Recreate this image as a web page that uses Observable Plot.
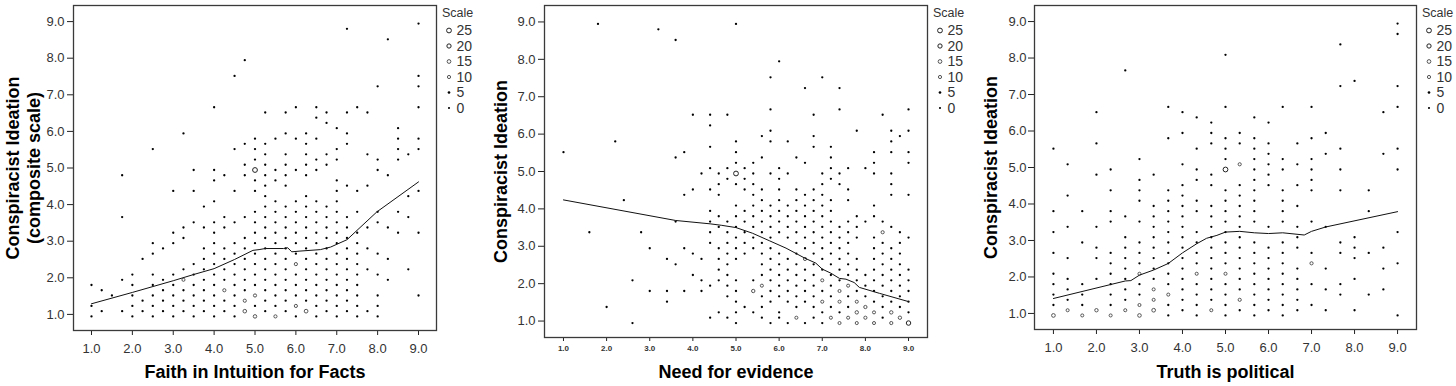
<!DOCTYPE html>
<html><head><meta charset="utf-8">
<script src="https://cdn.jsdelivr.net/npm/d3@7"></script>
<script src="https://cdn.jsdelivr.net/npm/@observablehq/plot@0.6"></script>
<style>
body{margin:0;background:#fff;}
#wrap{position:relative;width:1456px;height:386px;font-family:"Liberation Sans",Arial,sans-serif;}
#wrap svg{position:absolute;top:0;overflow:visible;}
</style></head><body><div id="wrap"></div>
<script>
// ---- data ----
const axisTicks = [1, 2, 3, 4, 5, 6, 7, 8, 9];
const legendValues = [25, 20, 15, 10, 5, 0];
const legendTitle = "Scale";

// Conspiracist Ideation responses lie on a grid of 1/7 steps above 1.0;
// each column lists the occupied steps (0 = 1.0, 56 = 9.0).
const faithCols = [
  [1.0, [6, 2, 0]], [1.25, [5, 1]], [1.5, [4]], [1.75, [27, 19, 7, 1]],
  [2.0, [8, 6, 4, 2, 0]], [2.25, [11, 3, 1]], [2.5, [32, 14, 12, 8, 6, 4, 2, 0]],
  [2.75, [13, 7, 5, 3, 1]], [3.0, [24, 16, 14, 8, 6, 4, 2, 0]],
  [3.25, [35, 17, 15, 9, 7, 5, 3, 1]], [3.5, [28, 24, 18, 10, 8, 6, 4, 2, 0]],
  [3.75, [21, 17, 13, 11, 9, 7, 5, 3, 1]], [4.0, [40, 28, 26, 22, 18, 16, 14, 12, 10, 8, 6, 4, 2, 0]],
  [4.25, [27, 19, 17, 13, 11, 9, 7, 5, 3, 1]], [4.5, [46, 32, 24, 18, 14, 12, 10, 8, 6, 4, 2, 0]],
  [4.75, [49, 33, 29, 27, 19, 15, 13, 11, 9, 7, 5, 3, 1]],
  [5.0, [34, 32, 30, 28, 26, 24, 20, 18, 16, 14, 12, 10, 8, 6, 4, 2, 0]],
  [5.25, [39, 33, 31, 29, 27, 25, 23, 21, 19, 17, 15, 13, 11, 9, 7, 5, 3, 1]],
  [5.5, [34, 28, 26, 22, 20, 18, 16, 14, 12, 10, 8, 6, 4, 2, 0]],
  [5.75, [39, 35, 31, 29, 27, 25, 21, 19, 17, 15, 13, 11, 9, 7, 5, 3, 1]],
  [6.0, [40, 34, 28, 22, 20, 18, 16, 14, 12, 10, 8, 6, 4, 2, 0]],
  [6.25, [35, 33, 31, 29, 27, 23, 21, 19, 17, 15, 13, 11, 9, 7, 5, 3, 1]],
  [6.5, [40, 38, 34, 30, 28, 22, 20, 18, 16, 14, 12, 10, 8, 6, 4, 2, 0]],
  [6.75, [39, 37, 31, 29, 21, 19, 17, 15, 13, 11, 9, 7, 5, 3, 1]],
  [7.0, [36, 32, 30, 26, 24, 22, 20, 18, 16, 14, 12, 10, 8, 6, 4, 2, 0]],
  [7.25, [55, 39, 35, 33, 25, 19, 17, 15, 13, 11, 9, 7, 5, 3, 1]],
  [7.5, [40, 24, 20, 16, 14, 12, 10, 8, 6, 4, 2, 0]],
  [7.75, [39, 31, 25, 17, 13, 9, 1]], [8.0, [44, 30, 28, 20, 18, 12, 8, 4, 2, 0]],
  [8.25, [53, 27, 17, 11, 7]], [8.5, [36, 34, 32, 30, 20, 16]], [8.75, [31, 23, 19, 9]],
  [9.0, [56, 46, 44, 40, 34, 32, 24, 16, 4]]
];
const faithCounts = [[5.0, 28, 25], [5.0, 0, 13], [5.0, 4, 10], [4.75, 1, 14], [4.75, 3, 10],
  [4.25, 5, 10], [6.0, 2, 10], [6.0, 10, 10], [6.25, 1, 15], [5.5, 0, 10], [3.25, 7, 9]];
const faithLoessX = [1.0, 2.0, 3.0, 3.5, 4.0, 4.5, 4.95, 5.1, 5.25, 5.7, 5.8, 5.9, 6.1, 6.6, 6.85, 7.25, 7.98, 9.0];
const faithLoessY = [1.29, 1.6, 1.92, 2.09, 2.25, 2.5, 2.75, 2.77, 2.8, 2.8, 2.82, 2.71, 2.73, 2.77, 2.84, 3.04, 3.8, 4.62];

const needCols = [
  [1.0, [32]], [1.6, [17]], [1.8, [56]], [2.0, [3]], [2.2, [34]], [2.4, [23]], [2.6, [8, 0]],
  [2.8, [17]], [3.0, [14, 6]], [3.2, [55]], [3.4, [12, 6, 4]], [3.6, [53, 31, 19, 11]],
  [3.8, [32, 24, 14, 6]], [4.0, [39, 25, 13, 9]], [4.2, [28, 12, 8, 6]],
  [4.4, [39, 37, 33, 29, 25, 21, 19, 17, 15, 7, 1]],
  [4.6, [28, 26, 24, 20, 18, 14, 12, 10, 8, 2]],
  [4.8, [39, 29, 27, 19, 17, 15, 13, 11, 9, 7, 5, 1]],
  [5.0, [56, 34, 32, 30, 28, 26, 22, 20, 18, 16, 14, 12, 8, 6, 4, 2, 0]],
  [5.2, [29, 27, 25, 21, 19, 17, 15, 13, 3]],
  [5.4, [30, 28, 26, 24, 22, 20, 18, 16, 14, 8, 6, 2]],
  [5.6, [35, 31, 25, 23, 21, 19, 17, 15, 13, 11, 9, 7, 5, 3, 1]],
  [5.8, [46, 40, 36, 34, 28, 22, 20, 18, 16, 14, 12, 10, 8, 6, 4, 0]],
  [6.0, [49, 29, 27, 25, 23, 21, 19, 17, 13, 11, 9, 7, 5, 2, 1]],
  [6.2, [34, 28, 22, 20, 18, 16, 12, 10, 8, 6, 4, 0]],
  [6.4, [31, 25, 23, 21, 19, 17, 15, 13, 11, 9, 7, 5, 3, 1]],
  [6.6, [44, 30, 24, 22, 20, 18, 16, 14, 12, 10, 8, 6, 4, 0]],
  [6.8, [39, 35, 33, 25, 23, 21, 19, 17, 15, 13, 11, 9, 7, 5, 3, 1]],
  [7.0, [46, 28, 26, 24, 22, 20, 18, 16, 14, 12, 10, 8, 6, 4, 2, 0]],
  [7.2, [33, 31, 29, 27, 23, 21, 19, 17, 15, 13, 11, 9, 7, 5, 3, 1]],
  [7.4, [44, 40, 28, 26, 18, 16, 14, 12, 10, 8, 6, 4, 2, 0]],
  [7.6, [29, 25, 23, 19, 17, 15, 13, 11, 9, 7, 5, 3, 1]],
  [7.8, [36, 20, 18, 16, 12, 10, 8, 6, 4, 2, 0]],
  [8.0, [29, 19, 9, 7, 5, 3, 1]],
  [8.2, [32, 30, 28, 22, 20, 16, 14, 12, 10, 8, 6, 4, 2, 0]],
  [8.4, [39, 19, 17, 15, 13, 11, 9, 7, 5, 3, 1]],
  [8.6, [36, 34, 32, 28, 26, 24, 18, 14, 12, 10, 8, 6, 4, 2, 0]],
  [8.8, [35, 17, 15, 13, 11, 9, 7, 5, 3, 1]],
  [9.0, [40, 36, 32, 30, 24, 16, 10, 8, 6, 4, 2, 0]]
];
const needCounts = [[5.0, 28, 25], [9.0, 0, 22], [5.4, 6, 12], [8.0, 3, 11], [7.8, 2, 12],
  [8.6, 2, 12], [8.8, 1, 12], [8.0, 1, 10], [8.4, 17, 10], [6.6, 12, 10], [5.6, 7, 9],
  [7.6, 7, 9], [7.0, 8, 9], [7.4, 6, 9], [7.0, 4, 9], [7.4, 4, 9], [7.8, 4, 9], [8.2, 2, 9],
  [6.4, 1, 9], [7.2, 1, 9], [7.6, 1, 9], [7.4, 0, 9], [7.8, 0, 9], [8.2, 0, 9], [8.6, 0, 10]];
const needLoessX = [1.0, 3.6, 4.4, 4.67, 5.0, 5.38, 5.77, 6.16, 6.6, 6.85, 7.0, 7.2, 7.4, 7.55, 7.74, 7.86, 8.33, 9.0];
const needLoessY = [4.24, 3.69, 3.6, 3.56, 3.5, 3.35, 3.15, 2.95, 2.68, 2.55, 2.39, 2.28, 2.14, 2.12, 2.03, 1.9, 1.74, 1.52];

const truthCols = [
  [1.0, [32, 20, 16, 12, 8, 6, 4, 2, 0]], [1.33, [29, 23, 17, 11, 7, 5, 3, 1]],
  [1.67, [20, 14, 6, 4, 2, 0]], [2.0, [39, 33, 27, 17, 13, 11, 7, 1]],
  [2.33, [28, 24, 20, 18, 12, 10, 8, 6, 4, 2, 0]], [2.67, [47, 19, 15, 13, 11, 9, 7, 5, 3, 1]],
  [3.0, [30, 26, 24, 22, 18, 14, 12, 10, 8, 6, 4, 2, 0]],
  [3.33, [27, 21, 19, 17, 15, 13, 11, 9, 7, 5, 3, 1]],
  [3.67, [40, 34, 24, 22, 20, 18, 16, 14, 12, 10, 8, 6, 4, 2, 0]],
  [4.0, [39, 35, 29, 25, 23, 21, 19, 17, 15, 13, 11, 9, 7, 5, 3, 1]],
  [4.33, [38, 32, 28, 26, 22, 20, 16, 14, 12, 10, 8, 6, 4, 2, 0]],
  [4.67, [37, 35, 33, 27, 25, 21, 19, 17, 15, 13, 11, 9, 7, 5, 3, 1]],
  [5.0, [50, 40, 34, 32, 30, 28, 24, 22, 20, 18, 16, 14, 12, 10, 8, 6, 4, 2, 0]],
  [5.33, [35, 33, 29, 25, 23, 21, 19, 17, 15, 13, 11, 9, 7, 5, 3, 1]],
  [5.67, [38, 34, 32, 30, 28, 26, 24, 22, 20, 18, 14, 12, 10, 8, 6, 4, 2, 0]],
  [6.0, [37, 33, 31, 29, 27, 25, 17, 13, 11, 9, 7, 5, 3, 1]],
  [6.33, [40, 30, 28, 24, 22, 20, 18, 14, 12, 10, 8, 6, 4, 2, 0]],
  [6.67, [33, 29, 25, 21, 17, 15, 13, 9, 7, 5, 3, 1]],
  [7.0, [40, 34, 30, 28, 26, 24, 18, 12, 10, 6, 2]],
  [7.33, [35, 31, 17, 9, 5, 1]], [7.67, [52, 44, 32, 28, 24, 14, 12, 6, 4]],
  [8.0, [45, 15, 13, 11, 7, 1]], [8.33, [24, 20, 12, 4]], [8.67, [39, 31, 13, 9, 5]],
  [9.0, [56, 54, 44, 40, 32, 28, 16, 10, 0]]
];
const truthCounts = [[5.0, 28, 25], [1.0, 0, 15], [1.33, 1, 9], [1.67, 0, 9], [2.0, 1, 12],
  [2.33, 0, 9], [2.67, 1, 9], [3.0, 0, 14], [3.33, 1, 15], [3.0, 2, 9], [3.0, 8, 9],
  [3.33, 3, 9], [3.33, 5, 9], [3.67, 4, 9], [4.33, 8, 9], [4.67, 1, 9], [5.33, 29, 10],
  [5.33, 3, 10], [7.0, 10, 10], [5.0, 8, 9]];
const truthLoessX = [1.0, 2.67, 2.8, 3.0, 3.33, 3.67, 4.0, 4.33, 4.56, 4.8, 5.0, 5.33, 5.67, 6.0, 6.33, 6.83, 7.0, 7.33, 9.0];
const truthLoessY = [1.41, 1.89, 1.9, 2.05, 2.19, 2.37, 2.66, 2.91, 3.06, 3.14, 3.23, 3.25, 3.21, 3.19, 3.21, 3.15, 3.25, 3.37, 3.79];

const xLabels = ["Faith in Intuition for Facts", "Need for evidence", "Truth is political"];
const yLabels = ["Conspiracist Ideation\n(composite scale)", "Conspiracist Ideation", "Conspiracist Ideation"];

// ---- layout ----
const panels = [
  {cols: faithCols, counts: faithCounts, lx: faithLoessX, ly: faithLoessY, left: 0, width: 485,
   mt: 5, mb: 56, ml: 73, mr: 49, xFont: 13, xWeight: "normal", xTick: 5, xPad: 8, yPad: 3, yDx: -51, xDy: 42},
  {cols: needCols, counts: needCounts, lx: needLoessX, ly: needLoessY, left: 485, width: 485,
   mt: 5, mb: 49, ml: 59, mr: 43, xFont: 8, xWeight: "bold", xTick: 4, xPad: 4, yPad: 3, yDx: -44, xDy: 35},
  {cols: truthCols, counts: truthCounts, lx: truthLoessX, ly: truthLoessY, left: 970, width: 486,
   mt: 5, mb: 57, ml: 64, mr: 40, xFont: 13, xWeight: "normal", xTick: 5, xPad: 8, yPad: 2, yDx: -44, xDy: 43}
];

const wrap = document.getElementById("wrap");
const font = '"Liberation Sans", Arial, sans-serif';

panels.forEach((p, i) => {
  const lookup = new Map(p.counts.map(([x, j, n]) => [x + "|" + j, n]));
  const pts = [];
  for (const [x, js] of p.cols) for (const j of js) {
    pts.push({x, y: 1 + j / 7, n: lookup.get(x + "|" + j) ?? 2});
  }
  const small = pts.filter(d => d.n < 8);
  const big = pts.filter(d => d.n >= 8);
  const line = p.lx.map((x, k) => ({x, y: p.ly[k]}));

  const chart = Plot.plot({
    width: p.width, height: 386,
    marginTop: p.mt, marginBottom: p.mb, marginLeft: p.ml, marginRight: p.mr,
    x: {domain: [0.56, 9.44]},
    y: {domain: [0.56, 9.44]},
    r: {type: "linear", domain: [0, 25], range: [1.05, 2.4]},
    style: {fontFamily: font, background: "transparent", overflow: "visible"},
    marks: [
      Plot.axisY({ticks: axisTicks, tickFormat: d3.format(".1f"), tickSize: 6, tickPadding: p.yPad,
        fontSize: 13, fill: "#333", stroke: "#222", label: null}),
      Plot.axisX({ticks: axisTicks, tickFormat: d3.format(".1f"), tickSize: p.xTick, tickPadding: p.xPad,
        fontSize: p.xFont, fontWeight: p.xWeight, fill: "#333", stroke: "#222", label: null}),
      Plot.dot(small, {x: "x", y: "y", r: "n", fill: "#000", dy: 2}),
      Plot.dot(big, {x: "x", y: "y", r: "n", stroke: d => d.n >= 20 ? "#222" : "#555", strokeWidth: 1, fill: "none", dy: 2}),
      Plot.line(line, {x: "x", y: "y", stroke: "#111", strokeWidth: 1}),
      Plot.frame({stroke: "#3a3a3a", strokeWidth: 1.3}),
      Plot.text([xLabels[i]], {text: d => d, frameAnchor: "bottom", dy: p.xDy, lineAnchor: "middle",
        fontSize: 18, fontWeight: "bold", fill: "#000"}),
      Plot.text([yLabels[i]], {text: d => d, frameAnchor: "left", dx: p.yDx, rotate: -90, lineAnchor: "middle",
        textAnchor: "middle", lineHeight: 1.17, fontSize: 18, fontWeight: "bold", fill: "#000"})
    ]
  });
  chart.style.left = p.left + "px";
  wrap.appendChild(chart);

  // legend (uses the chart's own r scale)
  const rScale = chart.scale("r");
  const frameRight = p.left + p.width - p.mr;
  const lg = d3.create("svg").attr("width", 40).attr("height", 120)
    .style("left", (frameRight + 5) + "px").style("font-family", font);
  lg.append("text").attr("x", 1).attr("y", 17).attr("font-size", 12.5).attr("fill", "#333").text(legendTitle);
  legendValues.forEach((v, k) => {
    const cy = 30.5 + k * 15.5;
    const r = rScale.apply(v);
    if (v < 8) lg.append("circle").attr("cx", 8).attr("cy", cy).attr("r", r).attr("fill", "#000");
    else lg.append("circle").attr("cx", 8).attr("cy", cy).attr("r", r).attr("fill", "none")
      .attr("stroke", v >= 20 ? "#222" : "#555").attr("stroke-width", 1);
    lg.append("text").attr("x", 15.5).attr("y", cy).attr("dy", "0.35em").attr("font-size", 14)
      .attr("fill", "#333").text(v);
  });
  wrap.appendChild(lg.node());
});
</script></body></html>
